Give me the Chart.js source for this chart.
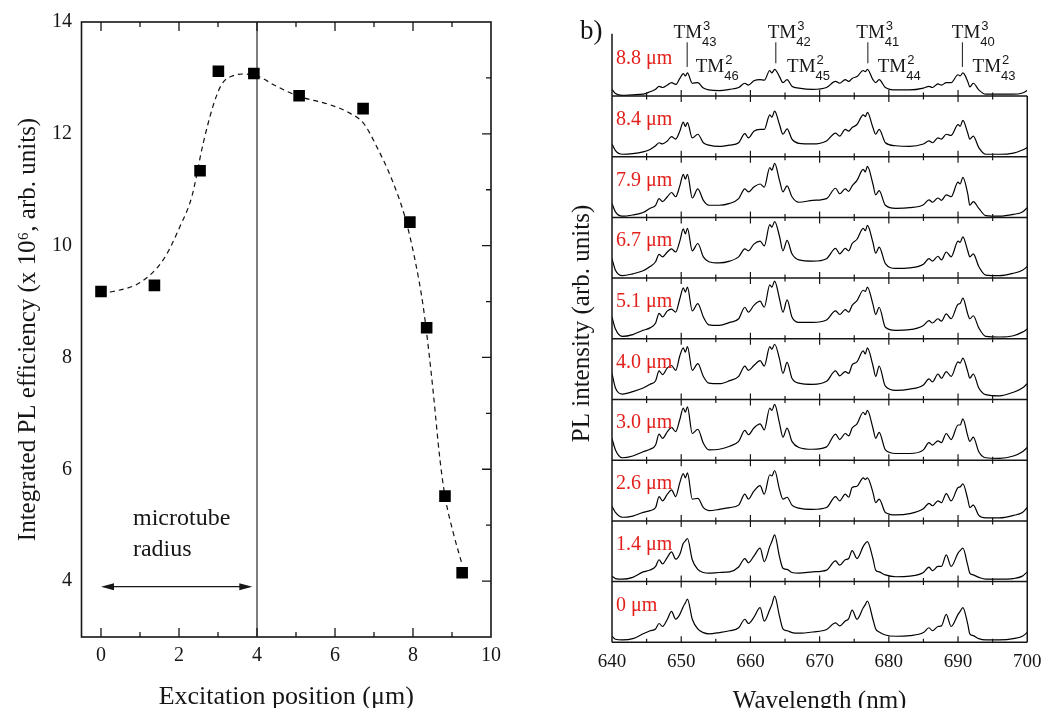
<!DOCTYPE html>
<html><head><meta charset="utf-8">
<script src="https://cdn.jsdelivr.net/npm/chart.js@4.4.0/dist/chart.umd.min.js"></script>
<style>
html,body{margin:0;padding:0;background:#fff;}
#wrap{position:relative;width:1050px;height:708px;overflow:hidden;background:#fff;}
#c1{position:absolute;left:0;top:0;}
#c2{position:absolute;left:520px;top:0;}
</style></head><body>
<div id="wrap"><canvas id="c1" width="520" height="708"></canvas><canvas id="c2" width="530" height="708"></canvas></div>
<script>
// ---------- Panel a: integrated PL efficiency ----------
const excitationPos = [0, 1.37, 2.54, 3.01, 3.92, 5.08, 6.72, 7.92, 8.35, 8.82, 9.26];
const plEfficiency = [9.18, 9.29, 11.34, 13.12, 13.08, 12.68, 12.45, 10.42, 8.53, 5.52, 4.15];
const fitPos = [0, 0.31, 1.0, 1.6, 2.03, 2.33, 2.62, 2.87, 3.09, 3.39, 3.69, 3.99, 4.5, 5.08, 5.87, 6.38, 6.73, 7.07, 7.46, 7.79, 8.05, 8.26, 8.41, 8.52, 8.69, 8.82, 9.03, 9.25];
const fitEff = [9.15, 9.18, 9.34, 9.75, 10.35, 10.88, 11.83, 12.49, 12.88, 13.04, 13.07, 13.04, 12.85, 12.67, 12.52, 12.37, 12.19, 11.77, 11.18, 10.52, 9.75, 8.92, 8.08, 7.37, 6.18, 5.52, 4.87, 4.32];
const posTickLabels = [0, 2, 4, 6, 8, 10];
const effTickLabels = [4, 6, 8, 10, 12, 14];
const tubeRadius = 4;
const arrowSpan = [0, 3.88];

// ---------- Panel b: PL spectra ----------
const wavelengths = [640.0, 640.5, 641.5, 643, 644.5, 645.5, 646.3, 646.8, 647.3, 648.0, 648.6, 649.2, 649.8, 650.3, 650.6, 650.9, 651.6, 652.4, 653.2, 654, 655.5, 657, 658.3, 659.2, 659.7, 660.5, 661.4, 662.0, 662.8, 663.1, 663.5, 664.2, 664.7, 665.3, 666.0, 667, 669, 671, 672.3, 672.9, 673.7, 674.2, 674.7, 675.4, 676.3, 676.6, 676.9, 677.7, 678.1, 678.6, 679.5, 681, 683, 685, 685.8, 686.3, 687.1, 687.6, 688.3, 689.0, 690.0, 690.3, 690.7, 691.4, 691.7, 692.2, 693.0, 694, 696, 698, 699.3, 700];
const spectrumLabels = ['8.8 μm', '8.4 μm', '7.9 μm', '6.7 μm', '5.1 μm', '4.0 μm', '3.0 μm', '2.6 μm', '1.4 μm', '0 μm'];
const spec88 = [11,4,1,2,3,7,11,16,14,18, 22,19,29,37,33,38,21,22,13,10, 9,11,14,21,18,25,27,26,42,38, 44,32,22,27,16,13,11,14,24,21, 27,24,29,32,42,40,44,27,22,27, 14,10,10,13,16,14,20,18,22,22, 35,33,38,24,15,21,10,3,3,3, 5,9];
const spec84 = [21,10,4,5,8,12,18,23,21,26, 33,29,42,57,50,56,31,37,23,19, 17,19,23,38,31,42,45,45,69,65, 75,53,37,46,29,22,21,26,39,34, 45,42,48,53,69,66,73,48,37,45, 23,18,17,21,26,23,31,29,37,35, 53,50,60,39,29,34,15,4,4,6, 11,15];
const spec79 = [23,9,2,4,8,15,20,31,26,34, 41,34,52,71,63,71,32,47,28,20, 20,23,31,47,42,50,55,50,82,78, 89,61,42,52,34,25,28,31,48,39, 47,43,52,61,79,75,84,55,37,44, 20,15,16,21,29,25,32,28,37,34, 58,55,66,39,20,26,15,3,2,5, 9,16];
const spec67 = [32,13,4,7,12,19,27,39,35,43, 48,43,61,81,73,82,45,57,35,27, 25,28,35,48,45,56,61,53,88,84, 93,69,45,62,40,30,28,32,49,40, 49,45,57,64,82,78,87,59,41,51, 24,16,17,23,32,28,36,30,43,35, 61,59,68,45,35,40,19,5,4,8, 13,19];
const spec51 = [36,16,4,7,14,18,26,42,36,46, 49,44,66,84,77,85,46,58,36,23, 22,27,33,52,44,55,62,52,89,85, 95,66,44,64,36,27,27,31,46,40, 48,44,55,63,80,78,85,57,40,52, 19,14,15,22,30,26,33,29,41,33, 57,58,67,41,33,38,18,4,3,5, 11,16];
const spec40 = [43,19,9,13,19,25,31,47,41,52, 56,48,72,85,78,87,48,59,38,27, 26,31,38,55,48,56,64,55,87,83, 91,67,43,61,35,27,25,30,47,39, 46,43,57,62,80,75,85,56,38,55, 22,15,17,24,34,29,42,35,46,38, 62,60,68,46,35,42,19,8,6,12, 19,26];
const spec30 = [36,17,4,7,14,18,25,43,36,47, 54,47,67,86,79,88,44,51,28,17, 18,23,31,49,42,53,60,50,86,82, 92,61,38,53,31,21,18,22,43,34, 44,40,53,60,79,75,82,53,36,46, 17,11,11,17,29,25,32,29,44,34, 58,58,68,40,31,38,14,4,3,7, 14,21];
const spec26 = [24,14,6,8,14,17,22,40,33,44, 51,40,63,78,71,79,36,37,22,17, 19,22,26,44,36,49,58,44,76,74, 83,52,36,39,26,21,19,22,40,33, 44,39,55,57,71,68,71,47,30,36, 14,10,12,20,29,25,33,30,45,33, 55,56,61,36,22,26,9,5,5,9, 14,22];
const spec14 = [9,5,4,7,16,19,25,36,29,40, 49,37,45,63,67,71,36,20,15,14, 15,16,24,38,31,42,55,33,58,66, 77,41,22,20,15,14,16,19,34,27, 36,38,51,38,58,63,66,38,19,16, 11,8,9,15,24,18,25,25,44,25, 47,51,55,27,14,11,7,4,4,5, 9,16];
const spec00 = [10,5,4,6,14,19,22,31,26,38, 51,38,46,59,65,71,38,22,16,14, 16,19,24,38,31,41,57,35,54,62, 76,43,22,19,16,15,17,21,32,27, 35,39,53,38,57,62,68,38,22,17, 12,10,11,16,24,19,26,27,46,26, 46,51,57,30,14,11,6,4,4,6, 10,16];
const spectra = [spec88, spec84, spec79, spec67, spec51, spec40, spec30, spec26, spec14, spec00];
const wavelengthTickLabels = [640, 650, 660, 670, 680, 690, 700];
// mode annotations (top spectrum)
const modeLinePos = [650.86, 663.67, 676.97, 690.63];
const mode3LabelPos = [648.9, 662.5, 675.3, 689.1];
const mode3Index = ['43', '42', '41', '40'];
const mode2LabelPos = [652.1, 665.3, 678.4, 692.1];
const mode2Index = ['46', '45', '44', '43'];

const SERIF = "'Liberation Serif', 'Times New Roman', serif";
const SANS = "'Liberation Sans', Arial, sans-serif";
const INK = '#161616';

// ---------- plugins ----------
const leftDecor = {
  id: 'leftDecor',
  afterDraw(chart) {
    const {ctx, chartArea: a, scales: {x, y}} = chart;
    ctx.save();
    ctx.strokeStyle = INK;
    ctx.lineWidth = 1.6;
    ctx.strokeRect(a.left, a.top, a.right - a.left, a.bottom - a.top);
    ctx.lineWidth = 1.3;
    ctx.beginPath();
    for (let v = Math.ceil(x.min); v < x.max; v++) {
      const px = x.getPixelForValue(v);
      const L = (v % 2 === 0) ? 9 : 5;
      ctx.moveTo(px, a.bottom); ctx.lineTo(px, a.bottom - L);
      ctx.moveTo(px, a.top); ctx.lineTo(px, a.top + L);
    }
    for (let v = Math.ceil(y.min) + 1; v < y.max; v++) {
      const py = y.getPixelForValue(v);
      const L = (v % 2 === 0) ? 9 : 5;
      ctx.moveTo(a.right, py); ctx.lineTo(a.right - L, py);
    }
    ctx.stroke();
    // double arrow for microtube radius
    const ay = y.getPixelForValue(3.9);
    const x0 = x.getPixelForValue(arrowSpan[0]);
    const x1 = x.getPixelForValue(arrowSpan[1]);
    ctx.lineWidth = 1.2;
    ctx.beginPath(); ctx.moveTo(x0 + 6, ay); ctx.lineTo(x1 - 6, ay); ctx.stroke();
    ctx.fillStyle = INK;
    ctx.beginPath(); ctx.moveTo(x0, ay); ctx.lineTo(x0 + 13, ay - 3.5); ctx.lineTo(x0 + 13, ay + 3.5); ctx.closePath(); ctx.fill();
    ctx.beginPath(); ctx.moveTo(x1, ay); ctx.lineTo(x1 - 13, ay - 3.5); ctx.lineTo(x1 - 13, ay + 3.5); ctx.closePath(); ctx.fill();
    ctx.font = '24px ' + SERIF;
    ctx.textAlign = 'left'; ctx.textBaseline = 'middle';
    ctx.fillText('microtube', x.getPixelForValue(0.82), y.getPixelForValue(5.12));
    ctx.fillText('radius', x.getPixelForValue(0.82), y.getPixelForValue(4.57));
    ctx.restore();
  }
};

const rightDecor = {
  id: 'rightDecor',
  afterDraw(chart) {
    const {ctx, chartArea: a, scales} = chart;
    const x = scales.x;
    ctx.save();
    ctx.strokeStyle = INK;
    ctx.lineWidth = 1.5;
    ctx.beginPath();
    ctx.moveTo(a.left, a.top - 1.5); ctx.lineTo(a.left, a.bottom);
    for (let i = 0; i < spectra.length; i++) {
      const s = scales['y' + i];
      ctx.moveTo(a.left, s.bottom); ctx.lineTo(a.right, s.bottom);
      if (i > 0) { ctx.moveTo(a.right, s.top); ctx.lineTo(a.right, s.bottom); }
    }
    ctx.stroke();
    ctx.lineWidth = 1.2;
    ctx.beginPath();
    for (let i = 0; i < spectra.length; i++) {
      const s = scales['y' + i];
      for (let v = x.min + 5; v < x.max; v += 5) {
        const px = x.getPixelForValue(v);
        const L = (v % 10 === 0) ? 6 : 3.5;
        ctx.moveTo(px, s.bottom); ctx.lineTo(px, s.bottom - L);
        if (i > 0) { ctx.moveTo(px, s.top); ctx.lineTo(px, s.top + L); }
      }
    }
    ctx.stroke();
    // red position labels
    ctx.fillStyle = '#e2211c';
    ctx.font = '20px ' + SERIF;
    ctx.textAlign = 'left'; ctx.textBaseline = 'middle';
    for (let i = 0; i < spectra.length; i++) {
      const s = scales['y' + i];
      ctx.fillText(spectrumLabels[i], a.left + 4, s.getPixelForValue(61));
    }
    // mode labels on top spectrum
    const s0 = scales.y0;
    ctx.fillStyle = INK;
    ctx.textBaseline = 'alphabetic';
    const drawMode = (lam, sup, sub, base) => {
      const px = x.getPixelForValue(lam);
      ctx.font = '19px ' + SERIF;
      ctx.fillText('TM', px, base);
      const w = ctx.measureText('TM').width;
      ctx.font = '13px ' + SANS;
      ctx.fillText(sup, px + w + 1, base - 8);
      ctx.fillText(sub, px + w, base + 8);
    };
    for (let k = 0; k < modeLinePos.length; k++) {
      drawMode(mode3LabelPos[k], '3', mode3Index[k], s0.top + 3);
      drawMode(mode2LabelPos[k], '2', mode2Index[k], s0.top + 36.8);
    }
    ctx.lineWidth = 1;
    ctx.beginPath();
    for (let k = 0; k < modeLinePos.length; k++) {
      const px = x.getPixelForValue(modeLinePos[k]);
      let j = 0, best = 1e9;
      wavelengths.forEach((w, idx) => { const d = Math.abs(w - modeLinePos[k]); if (d < best) { best = d; j = idx; } });
      const peakY = s0.getPixelForValue(spectra[0][j]);
      ctx.moveTo(px, s0.top + 7); ctx.lineTo(px, peakY - 6);
    }
    ctx.stroke();
    // panel tag and y title
    ctx.font = '27px ' + SERIF;
    ctx.textAlign = 'left';
    ctx.fillText('b)', a.left - 32, 39);
    ctx.translate(62, 323.5);
    ctx.rotate(-Math.PI / 2);
    ctx.font = '25px ' + SERIF;
    ctx.textAlign = 'center'; ctx.textBaseline = 'middle';
    ctx.fillText('PL intensity (arb. units)', 0, 0);
    ctx.restore();
  }
};

// ---------- chart a ----------
new Chart(document.getElementById('c1'), {
  type: 'scatter',
  data: {
    datasets: [
      { type: 'scatter', data: excitationPos.map((v, i) => ({x: v, y: plEfficiency[i]})),
        pointStyle: 'rect', pointRadius: 8.2, backgroundColor: '#000', borderColor: '#000', borderWidth: 0, order: 1 },
      { type: 'line', data: fitPos.map((v, i) => ({x: v, y: fitEff[i]})), borderColor: '#111', borderWidth: 1.2,
        borderDash: [5, 4], pointRadius: 0, cubicInterpolationMode: 'monotone', fill: false, order: 2 },
      { type: 'line', data: [{x: tubeRadius, y: 3}, {x: tubeRadius, y: 14}], borderColor: '#3a3a3a', borderWidth: 1.3,
        pointRadius: 0, fill: false, order: 3 }
    ]
  },
  options: {
    responsive: false, animation: false, devicePixelRatio: 1,
    layout: {padding: {left: 0, top: 22, right: 29, bottom: 0}},
    plugins: {legend: {display: false}, tooltip: {enabled: false}},
    scales: {
      x: {
        type: 'linear', min: -0.5, max: 10,
        afterBuildTicks: s => { s.ticks = posTickLabels.map(v => ({value: v})); },
        afterFit: s => { s.height = 71; },
        grid: {display: false, drawTicks: false}, border: {display: false},
        ticks: {padding: 7, color: INK, font: {family: SERIF, size: 20}},
        title: {display: true, text: 'Excitation position (μm)', color: INK,
          font: {family: SERIF, size: 26, lineHeight: 0.85}, padding: {top: 0, bottom: 0}}
      },
      y: {
        type: 'linear', min: 3, max: 14,
        afterBuildTicks: s => { s.ticks = effTickLabels.map(v => ({value: v})); },
        afterFit: s => { s.width = 81.5; },
        grid: {display: false, drawTicks: false}, border: {display: false},
        ticks: {padding: 9.5, color: INK, font: {family: SERIF, size: 20}},
        title: {display: true, text: 'Integrated PL efficiency (x 10⁶, arb. units)', color: INK,
          font: {family: SERIF, size: 25, lineHeight: 1}, padding: {top: 15.5, bottom: 0}}
      }
    }
  },
  plugins: [leftDecor]
});

// ---------- chart b ----------
const specScales = {
  x: {
    type: 'linear', min: 640, max: 700,
    afterBuildTicks: s => { s.ticks = wavelengthTickLabels.map(v => ({value: v})); },
    afterFit: s => { s.height = 65.7; },
    grid: {display: false, drawTicks: false}, border: {display: false},
    ticks: {padding: 8.5, color: INK, font: {family: SERIF, size: 19}},
    title: {display: true, text: 'Wavelength (nm)', color: INK,
      font: {family: SERIF, size: 25, lineHeight: 0.5}, padding: {top: 0, bottom: 0}}
  }
};
// stacked panels: the layout places the first-declared axis at the bottom, so declare bottom-up
for (let i = spectra.length - 1; i >= 0; i--) {
  specScales['y' + i] = {type: 'linear', position: 'left', stack: 'spectra', stackWeight: 1,
    min: 0, max: 100, display: false, offset: false};
}

new Chart(document.getElementById('c2'), {
  type: 'line',
  data: {
    datasets: spectra.map((arr, i) => ({
      label: spectrumLabels[i],
      data: wavelengths.map((w, j) => ({x: w, y: arr[j]})),
      yAxisID: 'y' + i,
      borderColor: '#000', borderWidth: 1.2, pointRadius: 0,
      cubicInterpolationMode: 'monotone', fill: false
    }))
  },
  options: {
    responsive: false, animation: false, devicePixelRatio: 1,
    layout: {padding: {left: 92, top: 35.3, right: 16.5, bottom: 0}},
    plugins: {legend: {display: false}, tooltip: {enabled: false}},
    scales: specScales
  },
  plugins: [rightDecor]
});
</script>
</body></html>
